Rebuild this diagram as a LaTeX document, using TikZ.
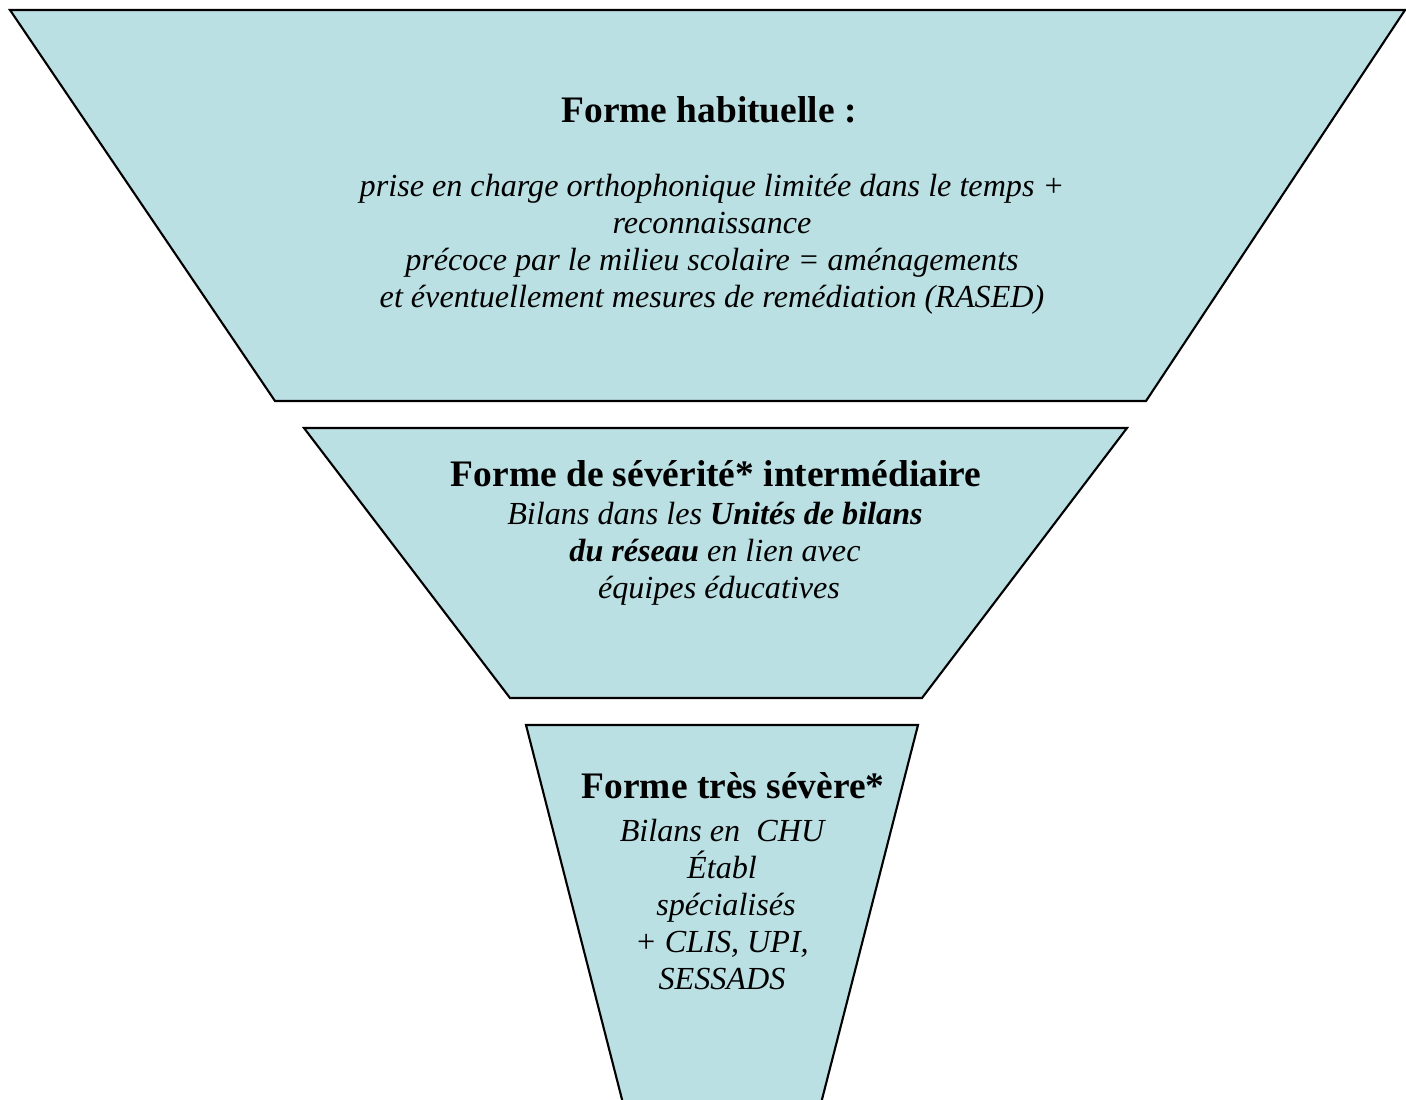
\documentclass[tikz,border=0pt]{standalone}
\usepackage{fontspec}
\setmainfont{Liberation Serif}
\usetikzlibrary{positioning}
\definecolor{funnelblue}{HTML}{BBE0E3}
\tikzset{%
	level/.style   = {draw, fill=funnelblue, line width=1.2pt, line join=miter},
	heading/.style = {font=\fontsize{21.3}{25}\selectfont\bfseries, inner sep=0pt, anchor=base},
	body/.style    = {font=\fontsize{18.3}{21}\selectfont\itshape, align=center, inner sep=0pt, anchor=north},
}

\begin{document}
\begin{tikzpicture}[x=0.02cm,y=-0.02cm]
	\useasboundingbox (0,0) rectangle (1406,1099);
	\clip (0,0) rectangle (1406,1099);
	% funnel levels
	\draw[level] (10,10) -- (1405,10) -- (1146,401) -- (275,401) -- cycle;
	\draw[level] (304,428) -- (1127,428) -- (922,698) -- (510,698) -- cycle;
	\draw[level] (526,725) -- (918,725) -- (818,1115) -- (626,1115) -- cycle;

	% level 1
	\node[heading] (t1) at (709,122) {Forme habituelle :};
	\node[body] (b1) at (712,174) {prise en charge orthophonique limitée dans le temps +\\
		reconnaissance\\
		précoce par le milieu scolaire = aménagements\\
		et éventuellement mesures de remédiation (RASED)};

	% level 2
	\node[heading] (t2) at (716,486) {Forme de sévérité* intermédiaire};
	\node[body] (b2) at (715,502) {Bilans dans les \textbf{Unités de bilans}\\
		\textbf{du réseau} en lien avec\\
		\ équipes éducatives};

	% level 3
	\node[heading] (t3) at (733,798) {Forme très sévère*};
	\node[body] (b3) at (722,819) {Bilans en\ \ CHU\\
		Établ\\
		\ spécialisés\\
		+ CLIS, UPI,\\
		SESSADS};
\end{tikzpicture}
\end{document}
